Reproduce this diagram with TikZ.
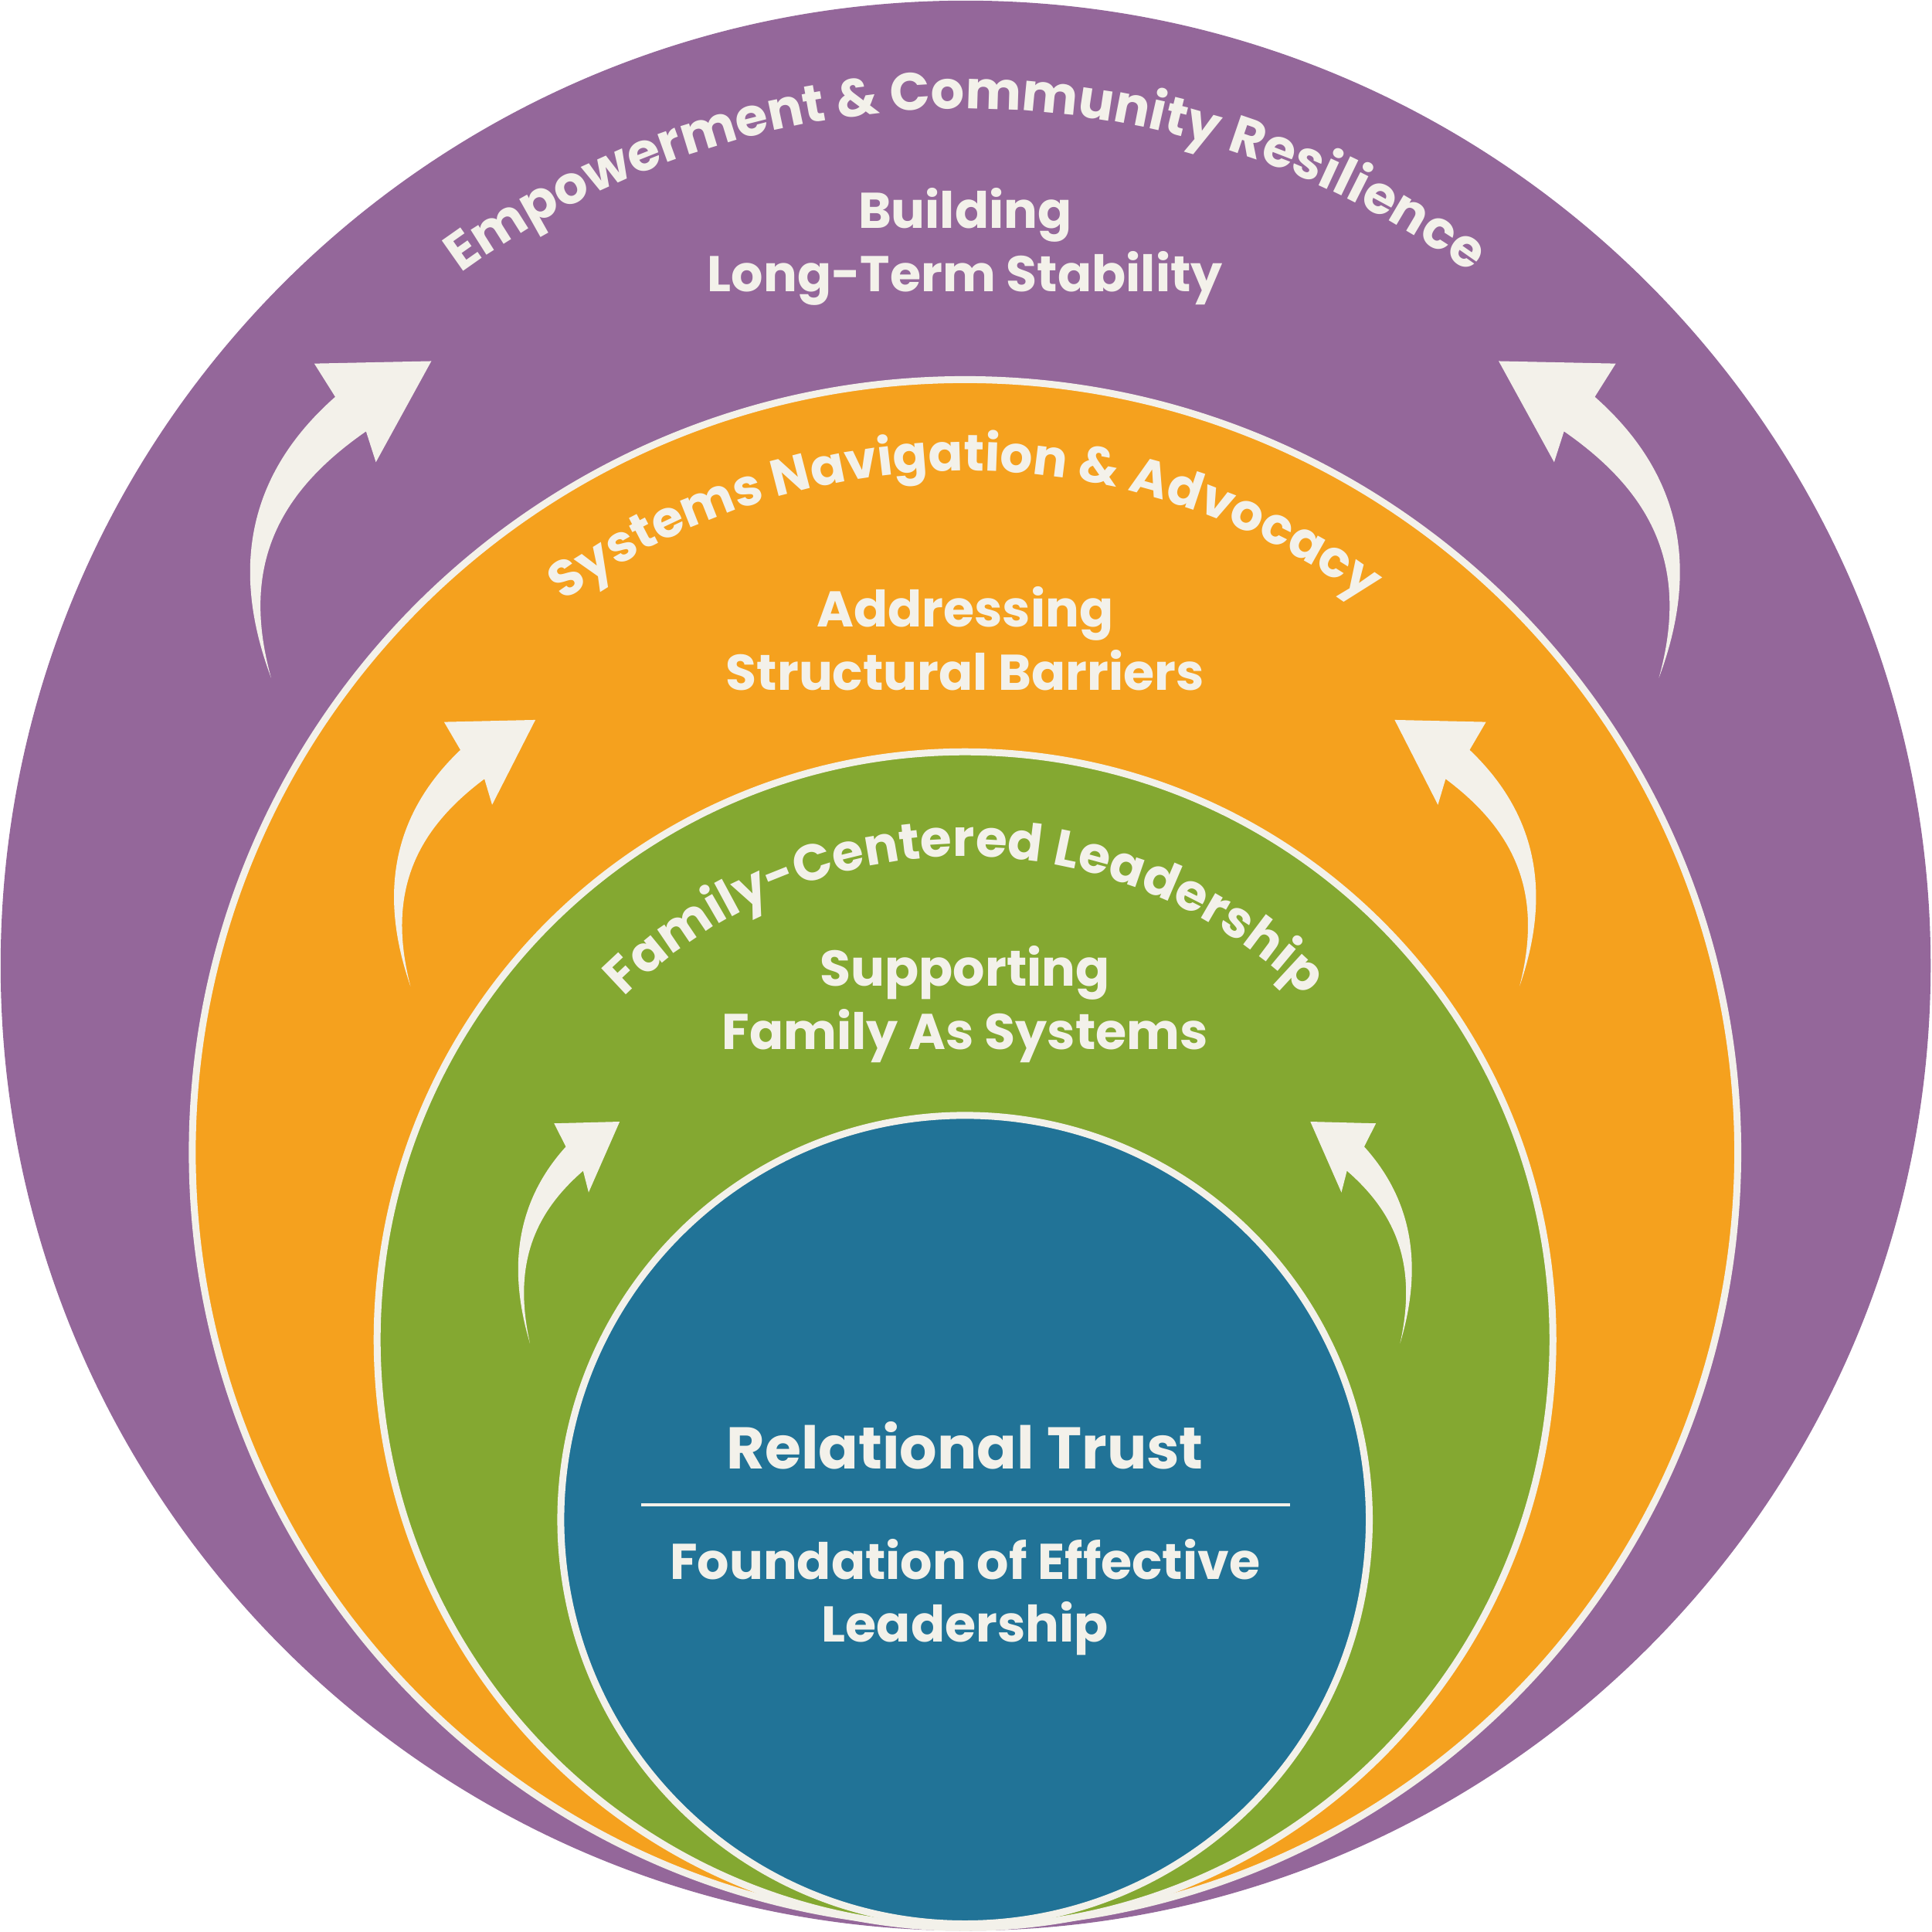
\documentclass[tikz,border=0pt]{standalone}
\usepackage{fontspec}
\setmainfont{Poppins}
\usetikzlibrary{decorations.text}
\definecolor{cream}{HTML}{F3F1EA}
\definecolor{purp}{HTML}{94679A}
\definecolor{oran}{HTML}{F5A11E}
\definecolor{gree}{HTML}{84A831}
\definecolor{blu}{HTML}{217397}
\begin{document}
\begin{tikzpicture}[x=0.05cm,y=-0.05cm,
  ring/.style={draw=cream,line width=8pt},
  lbl/.style={text=cream,font=\bfseries\fontsize{58}{62}\selectfont,align=center},
  curv/.style={decoration={text along path,text align=center,text color=cream,text={#1}},decorate},
  arrowpic/.pic={
    \fill[cream] (0,0) .. controls (-30,-80) and (-25,-160) .. (52,-228)
       -- (35,-255) -- (130,-257) -- (85,-175) -- (77,-200)
       .. controls (5,-150) and (-25,-90) .. (0,0) -- cycle;
  }]
\useasboundingbox (0,0) rectangle (1567,1567.6);
\node[circle,fill=purp,minimum size=1566*0.05cm,inner sep=0] (p) at (783.5,783.5) {};
\node[circle,fill=oran,ring,minimum size=1254*0.05cm,inner sep=0] (o) at (783,935) {};
\node[circle,fill=gree,ring,minimum size=954*0.05cm,inner sep=0] (g) at (783,1087) {};
\node[circle,fill=blu,ring,minimum size=656*0.05cm,inner sep=0] (b) at (783,1233) {};
% arrows
\pic at (220,550) {arrowpic};
\pic[xscale=-1] at (1346,550) {arrowpic};
\pic[xscale=0.78,yscale=0.84] at (333,800) {arrowpic};
\pic[xscale=-0.78,yscale=0.84] at (1233,800) {arrowpic};
\pic[xscale=0.56,yscale=0.7] at (430,1090) {arrowpic};
\pic[xscale=-0.56,yscale=0.7] at (1136,1090) {arrowpic};
% curved titles
{\bfseries\fontsize{61}{61}\selectfont
\path[curv={Empowerment {\&} Community Resilience}]
  (783.5,783.5) ++(-150:695) arc[start angle=-150,end angle=-30,radius=695];
}
{\bfseries\fontsize{59}{59}\selectfont
\path[curv={Systems Navigation {\&} Advocacy}]
  (783,935) ++(-150:553) arc[start angle=-150,end angle=-30,radius=553];
\path[curv={Family-Centered Leadership}]
  (783,1087) ++(-155:392) arc[start angle=-155,end angle=-25,radius=392];
}
% labels
\node[lbl] (t1) at (783,200) {Building\\[10pt]Long-Term Stability};
\node[lbl] (t2) at (783,518) {Addressing\\[10pt]Structural Barriers};
\node[lbl] (t3) at (783,815) {Supporting\\[10pt]Family As Systems};
\node[lbl,font=\bfseries\fontsize{68}{72}\selectfont] (t4) at (783,1173) {Relational Trust};
\coordinate (l1) at (520,1221);
\coordinate (l2) at (1047,1221);
\draw[cream,line width=4pt] (l1) -- (l2);
\node[lbl] (t5) at (783,1296) {Foundation of Effective\\[10pt]Leadership};
\end{tikzpicture}
\end{document}
